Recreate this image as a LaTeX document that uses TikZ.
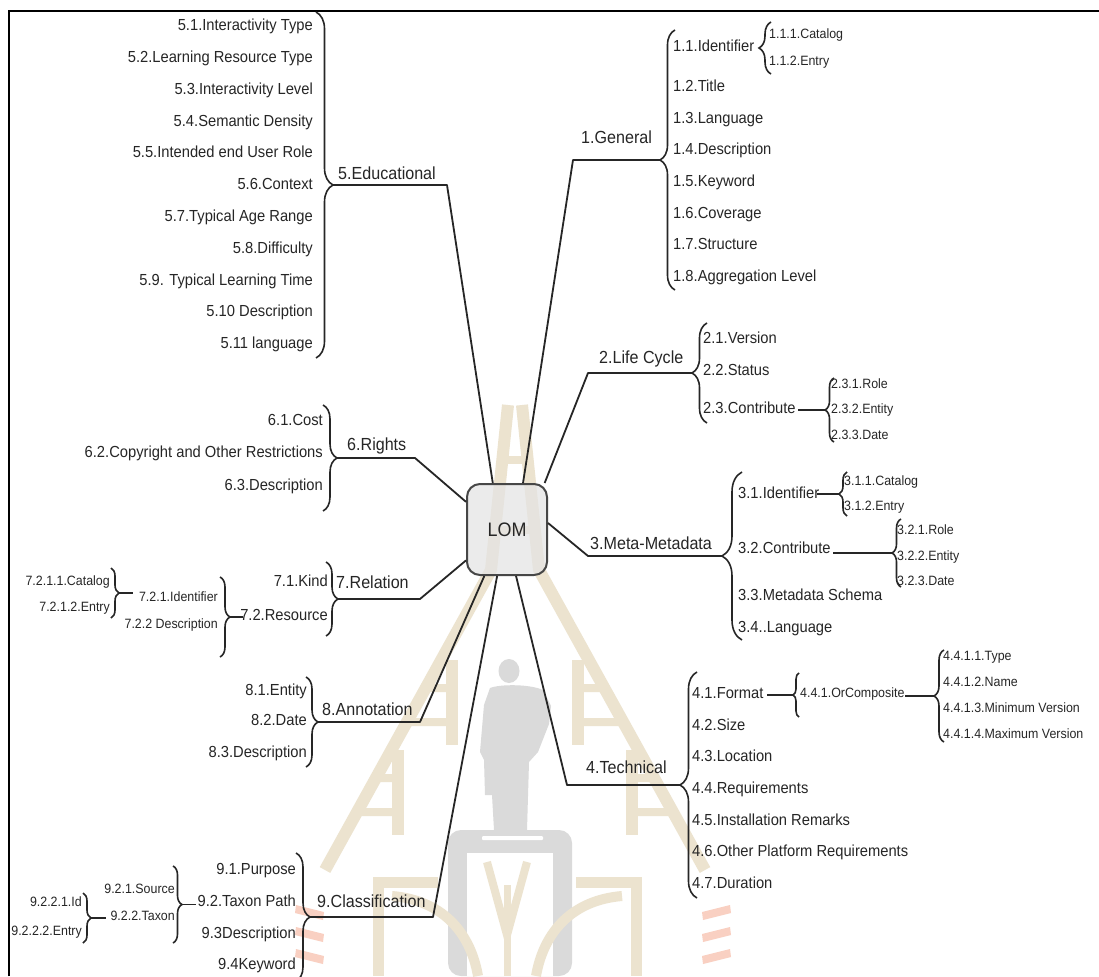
\documentclass[tikz,border=0pt]{standalone}
\usepackage{fontspec}
\newfontfamily\lomfont[FakeStretch=0.92]{Liberation Sans}
\usetikzlibrary{decorations.pathreplacing,calc}
\definecolor{ink}{HTML}{262626}
\definecolor{wmtan}{HTML}{ECE3CF}
\definecolor{wmgrey}{HTML}{DADADA}
\definecolor{wmred}{HTML}{F9D0C2}
\definecolor{boxfill}{HTML}{E4E4E4}

\tikzset{
  leaf/.style={inner sep=0pt, text=ink, yshift=-1.5pt, font=\lomfont\fontsize{16}{18}\selectfont},
  small/.style={leaf, font=\lomfont\fontsize{13.5}{15}\selectfont},
  branch/.style={leaf, font=\lomfont\fontsize{17.5}{20}\selectfont},
  link/.style={draw=ink, line width=1.8pt, line join=round},
  curly/.style={draw=ink, line width=1.6pt, decorate, decoration={brace, amplitude=#1}},
  lombox/.style={draw=ink!85, line width=2pt, fill=boxfill, fill opacity=0.72, text opacity=1,
    rounded corners=13pt, minimum width=80pt, minimum height=91pt, inner sep=0pt, text=ink,
    font=\lomfont\fontsize{19.5}{22}\selectfont},
  rail/.style={draw=wmtan, line width=12pt, line join=round},
  rung/.style={draw=wmtan, line width=8pt},
}

\begin{document}
\begin{tikzpicture}[x=1pt,y=-1pt]
\useasboundingbox (0,0) rectangle (1099,976);
\fill[white] (0,0) rectangle (1099,976);

% ---------- faint emblem in the background ----------
% tower: two rails with ladder steps
\draw[rail] (508,405) -- (491,570) -- (325,870);
\draw[rail] (522,405) -- (539,570) -- (705,870);
\foreach \yy in {460,530} \draw[rung] (500,\yy) -- (530,\yy);
\draw[rail] (578,660) -- (578,745);
\draw[rail] (632,750) -- (632,835);
\draw[rail] (452,660) -- (452,745);
\draw[rail] (398,750) -- (398,835);
\foreach \yy/\xr/\xl in {688/578/452, 722/578/452, 778/632/398, 812/632/398} {
  \draw[rung] (\xr,\yy) -- ($(539,570)!{(\yy-570)/300}!(705,870)$);
  \draw[rung] (\xl,\yy) -- ($(491,570)!{(\yy-570)/300}!(325,870)$);
}
% statue and pedestal
\fill[wmgrey] (509,671) ellipse (10.5 and 12);
\fill[wmgrey] (490,688) .. controls (500,684) and (530,684) .. (543,690) -- (551,706) -- (549,724)
  -- (538,752) -- (529,762) -- (527,830) -- (494,830) -- (492,795) -- (485,795) -- (484,760)
  -- (480,752) -- (484,705) -- cycle;
\fill[wmgrey, rounded corners=13pt] (448,976) -- (448,830) -- (572,830) -- (572,976) -- cycle;
\fill[white] (467,853) rectangle (553,976);
\fill[white, rounded corners=1pt] (482,836) rectangle (543,840);
% sheaves at the foot
\draw[wmtan, line width=11pt] (378,976) -- (378,882) -- (438,882);
\draw[wmtan, line width=10pt] (392,896) .. controls (440,900) and (470,930) .. (478,976);
\draw[wmtan, line width=11pt] (636,976) -- (636,882) -- (576,882);
\draw[wmtan, line width=10pt] (622,896) .. controls (574,900) and (544,930) .. (536,976);
\draw[wmtan, line width=8pt] (487,862) -- (507,935) -- (527,862);
\draw[wmtan, line width=7pt] (507,885) -- (507,976);
\foreach \k in {0,1,2} {
  \fill[wmred] (702,{912+22*\k}) -- (730,{905+22*\k}) -- (731,{913+22*\k}) -- (703,{920+22*\k}) -- cycle;
  \fill[wmred] (324,{912+22*\k}) -- (296,{905+22*\k}) -- (295,{913+22*\k}) -- (323,{920+22*\k}) -- cycle;
}

% ---------- frame ----------
\draw[line width=2.2pt, draw=black] (9,976) -- (9,11) -- (1099,11);

% ---------- root ----------
\node[lombox] (lom) at (507,529.5) {LOM};

% ---------- 5. Educational ----------
\foreach \t [count=\i] in {5.1.Interactivity Type, 5.2.Learning Resource Type,
  5.3.Interactivity Level, 5.4.Semantic Density, 5.5.Intended end User Role,
  5.6.Context, 5.7.Typical Age Range, 5.8.Difficulty, 5.9. Typical Learning Time,
  5.10 Description, 5.11 language}
  \node[leaf, anchor=mid east] (e\i) at (313,{27+31.8*(\i-1)}) {\t};
\node[branch, anchor=mid west] (edu) at (338,176) {5.Educational};
\coordinate (edu0) at (447,185);
\coordinate (edutip) at (333,185);
\draw[link] (lom.107) -- (edu0) -- (edutip);
\draw[curly=17pt] (316,12) -- (316,358);

% ---------- 1. General ----------
\node[branch, anchor=mid west] (gen) at (581,140) {1.General};
\node[leaf, anchor=mid west] (g1) at (673,48) {1.1.Identifier};
\foreach \t [count=\i from 2] in {1.2.Title, 1.3.Language, 1.4.Description,
  1.5.Keyword, 1.6.Coverage, 1.7.Structure, 1.8.Aggregation Level}
  \node[leaf, anchor=mid west] (g\i) at (673,{88+31.6*(\i-2)}) {\t};
\node[small, anchor=mid west] (g11) at (769,35) {1.1.1.Catalog};
\node[small, anchor=mid west] (g12) at (769,62) {1.1.2.Entry};
\coordinate (gen0) at (573,160);
\coordinate (gentip) at (660,160);
\draw[link] (lom.71.8) -- (gen0) -- (gentip);
\draw[curly=15pt] (675,290) -- (675,30);
\draw[curly=12pt] (771,74) -- (771,22);

% ---------- 2. Life Cycle ----------
\node[branch, anchor=mid west] (life) at (599,360) {2.Life Cycle};
\node[leaf, anchor=mid west] (l1) at (703,340) {2.1.Version};
\node[leaf, anchor=mid west] (l2) at (703,372) {2.2.Status};
\node[leaf, anchor=mid west] (l3) at (703,410) {2.3.Contribute};
\node[small, anchor=mid west] (l31) at (831,385) {2.3.1.Role};
\node[small, anchor=mid west] (l32) at (831,410) {2.3.2.Entity};
\node[small, anchor=mid west] (l33) at (831,436) {2.3.3.Date};
\coordinate (life0) at (588,373);
\coordinate (lifetip) at (692,373);
\draw[link] (lom.51.6) -- (life0) -- (lifetip);
\draw[curly=15pt] (707,423) -- (707,323);
\coordinate (l3a) at (798,410);
\coordinate (l3tip) at (825,410);
\draw[link, line width=2.4pt] (l3a) -- (l3tip);
\draw[curly=9pt] (834,442) -- (834,378);

% ---------- 3. Meta-Metadata ----------
\node[branch, anchor=mid west] (meta) at (590,546) {3.Meta-Metadata};
\node[leaf, anchor=mid west] (m1) at (738,495) {3.1.Identifier};
\node[leaf, anchor=mid west] (m2) at (738,550) {3.2.Contribute};
\node[leaf, anchor=mid west] (m3) at (738,597) {3.3.Metadata Schema};
\node[leaf, anchor=mid west] (m4) at (738,629) {3.4..Language};
\node[small, anchor=mid west] (m11) at (844,482) {3.1.1.Catalog};
\node[small, anchor=mid west] (m12) at (844,507) {3.1.2.Entry};
\node[small, anchor=mid west] (m21) at (897,531) {3.2.1.Role};
\node[small, anchor=mid west] (m22) at (897,557) {3.2.2.Entity};
\node[small, anchor=mid west] (m23) at (897,582) {3.2.3.Date};
\coordinate (meta0) at (588,556);
\coordinate (metatip) at (722,556);
\draw[link] (lom.9.2) -- (meta0) -- (metatip);
\draw[curly=20pt] (742,640) -- (742,472);
\coordinate (m1a) at (817,494);
\coordinate (m1tip) at (839,494);
\draw[link] (m1a) -- (m1tip);
\draw[curly=8pt] (847,516) -- (847,472);
\coordinate (m2a) at (833,553);
\coordinate (m2tip) at (892,553);
\draw[link] (m2a) -- (m2tip);
\draw[curly=9pt] (901,587) -- (901,519);

% ---------- 4. Technical ----------
\node[branch, anchor=mid west] (tech) at (586,770) {4.Technical};
\foreach \t [count=\i] in {4.1.Format, 4.2.Size, 4.3.Location, 4.4.Requirements,
  4.5.Installation Remarks, 4.6.Other Platform Requirements, 4.7.Duration}
  \node[leaf, anchor=mid west] (t\i) at (692,{695+31.6*(\i-1)}) {\t};
\node[small, anchor=mid west] (t41) at (800,694) {4.4.1.OrComposite};
\node[small, anchor=mid west] (t411) at (943,657) {4.4.1.1.Type};
\node[small, anchor=mid west] (t412) at (943,683) {4.4.1.2.Name};
\node[small, anchor=mid west] (t413) at (943,709) {4.4.1.3.Minimum Version};
\node[small, anchor=mid west] (t414) at (943,735) {4.4.1.4.Maximum Version};
\coordinate (tech0) at (567,785);
\coordinate (techtip) at (680,785);
\draw[link] (lom.281.2) -- (tech0) -- (techtip);
\draw[curly=17pt] (697,898) -- (697,672);
\coordinate (t1a) at (767,695);
\coordinate (t1tip) at (793,695);
\draw[link, line width=1.4pt] (t1a) -- (t1tip);
\draw[curly=6pt] (799,717) -- (799,673);
\coordinate (t41a) at (905,696);
\coordinate (t41tip) at (934,696);
\draw[link, line width=1.4pt] (t41a) -- (t41tip);
\draw[curly=10pt] (944,742) -- (944,650);

% ---------- 6. Rights ----------
\node[branch, anchor=mid west] (rights) at (347,447) {6.Rights};
\node[leaf, anchor=mid east] (r1) at (323,422) {6.1.Cost};
\node[leaf, anchor=mid east] (r2) at (323,454) {6.2.Copyright and Other Restrictions};
\node[leaf, anchor=mid east] (r3) at (323,487) {6.3.Description};
\coordinate (rights0) at (415,458);
\coordinate (rightstip) at (337,458);
\draw[link] (lom.146.5) -- (rights0) -- (rightstip);
\draw[curly=14pt] (323,405) -- (323,511);

% ---------- 7. Relation ----------
\node[branch, anchor=mid west] (rel) at (336,585) {7.Relation};
\node[leaf, anchor=mid east] (re1) at (328,583) {7.1.Kind};
\node[leaf, anchor=mid east] (re2) at (328,617) {7.2.Resource};
\node[small, anchor=mid east] (re21) at (218,598) {7.2.1.Identifier};
\node[small, anchor=mid east] (re22) at (218,625) {7.2.2 Description};
\node[small, anchor=mid east] (re211) at (110,582) {7.2.1.1.Catalog};
\node[small, anchor=mid east] (re212) at (110,608) {7.2.1.2.Entry};
\coordinate (rel0) at (420,599);
\coordinate (reltip) at (338,599);
\draw[link] (lom.217.3) -- (rel0) -- (reltip);
\draw[curly=12pt] (326,562) -- (326,636);
\coordinate (re2tip) at (230,617);
\coordinate (re2a) at (243,617);
\draw[curly=10pt] (220,577) -- (220,657);
\draw[link, line width=1.4pt] (re2tip) -- (re2a);
\coordinate (re21tip) at (119,593);
\coordinate (re21a) at (133,593);
\draw[curly=8pt] (111,568) -- (111,618);
\draw[link] (re21tip) -- (re21a);

% ---------- 8. Annotation ----------
\node[branch, anchor=mid west] (ann) at (322,712) {8.Annotation};
\node[leaf, anchor=mid east] (a1) at (307,692) {8.1.Entity};
\node[leaf, anchor=mid east] (a2) at (307,722) {8.2.Date};
\node[leaf, anchor=mid east] (a3) at (307,754) {8.3.Description};
\coordinate (ann0) at (420,722);
\coordinate (anntip) at (318,722);
\draw[link] (lom.244.2) -- (ann0) -- (anntip);
\draw[curly=12pt] (306,677) -- (306,767);

% ---------- 9. Classification ----------
\node[branch, anchor=mid west] (cls) at (317,904) {9.Classification};
\node[leaf, anchor=mid east] (c1) at (296,871) {9.1.Purpose};
\node[leaf, anchor=mid east] (c2) at (296,903) {9.2.Taxon Path};
\node[leaf, anchor=mid east] (c3) at (296,935) {9.3Description};
\node[leaf, anchor=mid east] (c4) at (296,966) {9.4Keyword};
\node[small, anchor=mid east] (c21) at (175,890) {9.2.1.Source};
\node[small, anchor=mid east] (c22) at (175,917) {9.2.2.Taxon};
\node[small, anchor=mid east] (c221) at (82,903) {9.2.2.1.Id};
\node[small, anchor=mid east] (c222) at (82,932) {9.2.2.2.Entry};
\coordinate (cls0) at (433,917);
\coordinate (clstip) at (310,917);
\draw[link] (lom.258.8) -- (cls0) -- (clstip);
\draw[curly=14pt] (296,853) -- (296,981);
\coordinate (c2tip) at (182,904.5);
\coordinate (c2a) at (196,904.5);
\draw[curly=9pt] (173,866) -- (173,943);
\draw[link, line width=1.4pt] (c2tip) -- (c2a);
\coordinate (c22tip) at (91,918);
\coordinate (c22a) at (106,918);
\draw[curly=8pt] (83,893) -- (83,943);
\draw[link, line width=1.4pt] (c22tip) -- (c22a);

% frame drawn again so that it stays above the text that touches it
\draw[line width=2.2pt, draw=black] (9,976) -- (9,11);
\end{tikzpicture}
\end{document}
